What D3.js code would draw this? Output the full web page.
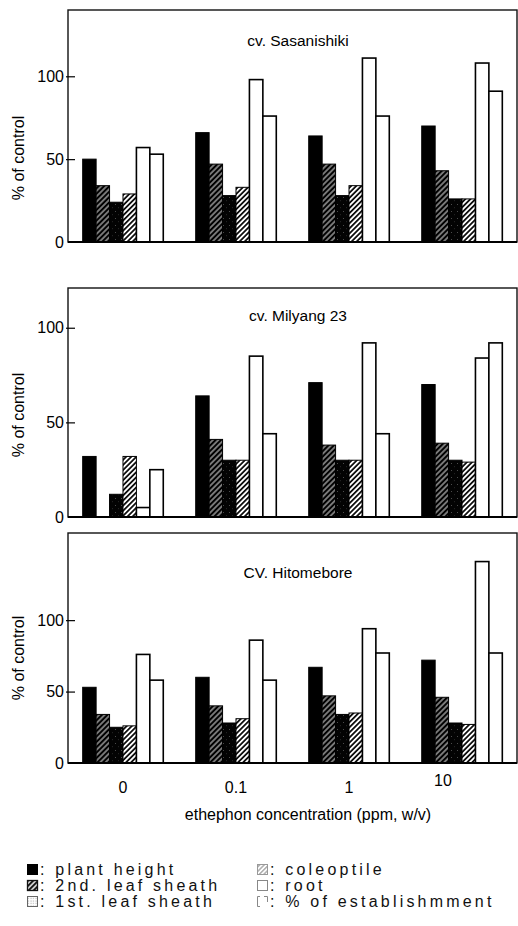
<!DOCTYPE html>
<html>
<head>
<meta charset="utf-8">
<script src="https://cdn.jsdelivr.net/npm/d3@7"></script>
<style>
  html, body { margin: 0; padding: 0; background: #fff; }
  svg { display: block; font-family: "Liberation Sans", Arial, Helvetica, sans-serif; }
</style>
</head>
<body>
<svg id="chart" width="518" height="926"></svg>
<script>
// ---------- data ----------
const groups = ["0", "0.1", "1", "10"];
const series = ["plant height", "2nd. leaf sheath", "1st. leaf sheath", "coleoptile", "root", "% of establishmment"];
const panelNames = ["cv. Sasanishiki", "cv. Milyang 23", "CV. Hitomebore"];
const yTicks = [0, 50, 100];
const xTitle = "ethephon concentration (ppm, w/v)";
const yTitle = "% of control";

// rows = series (in order above), columns = groups
const sasanishiki = [
  [50, 66, 64, 70],
  [34, 47, 47, 43],
  [24, 28, 28, 26],
  [29, 33, 34, 26],
  [57, 98, 111, 108],
  [53, 76, 76, 91]
];
const milyang23 = [
  [32, 64, 71, 70],
  [0, 41, 38, 39],
  [12, 30, 30, 30],
  [32, 30, 30, 29],
  [5, 85, 92, 84],
  [25, 44, 44, 92]
];
const hitomebore = [
  [53, 60, 67, 72],
  [34, 40, 47, 46],
  [25, 28, 34, 28],
  [26, 31, 35, 27],
  [76, 86, 94, 141],
  [58, 58, 77, 77]
];
const panelData = [sasanishiki, milyang23, hitomebore];

// ---------- layout ----------
const svg = d3.select("#chart");
const left = 68, right = 517;
const layout = [
  { top: 10,  base: 242, ymax: 140, titleY: 46,  labelY: 158 },
  { top: 288, base: 517, ymax: 121, titleY: 321, labelY: 415 },
  { top: 533, base: 763, ymax: 161, titleY: 578, labelY: 658 }
];

// ---------- patterns ----------
const defs = svg.append("defs");
function hatch(id, bg, fg, w, sp) {
  const p = defs.append("pattern").attr("id", id).attr("patternUnits", "userSpaceOnUse")
    .attr("width", sp).attr("height", sp).attr("patternTransform", "rotate(45)");
  p.append("rect").attr("width", sp).attr("height", sp).attr("fill", bg);
  p.append("line").attr("x1", sp / 2).attr("x2", sp / 2).attr("y1", -1).attr("y2", sp + 1)
    .attr("stroke", fg).attr("stroke-width", w);
}
hatch("hatchDark", "#000", "#fff", 0.9, 3.8);
hatch("hatchLight", "#fff", "#000", 1.7, 3.6);
hatch("hatchLegend", "#fff", "#999", 1.2, 3.2);
hatch("hatchLegendDark", "#fff", "#111", 2.2, 3.6);
{
  const p = defs.append("pattern").attr("id", "dots").attr("patternUnits", "userSpaceOnUse")
    .attr("width", 6).attr("height", 7);
  p.append("rect").attr("width", 6).attr("height", 7).attr("fill", "#030303");
  p.append("rect").attr("x", 1).attr("y", 1).attr("width", 0.7).attr("height", 0.7).attr("fill", "#999");
  p.append("rect").attr("x", 4).attr("y", 4.5).attr("width", 0.6).attr("height", 0.6).attr("fill", "#666");
  const q = defs.append("pattern").attr("id", "dotsLegend").attr("patternUnits", "userSpaceOnUse")
    .attr("width", 2.5).attr("height", 2.5);
  q.append("rect").attr("width", 2.5).attr("height", 2.5).attr("fill", "#fff");
  q.append("rect").attr("x", 0.5).attr("y", 0.5).attr("width", 1).attr("height", 1).attr("fill", "#999");
}
const fills = ["#000", "url(#hatchDark)", "url(#dots)", "url(#hatchLight)", "#fff", "#fff"];

// ---------- scales ----------
const x = d3.scaleBand().domain(groups).range([left, right]).paddingInner(0.287).paddingOuter(0.13);
const xs = d3.scaleBand().domain(series).range([0, x.bandwidth()]).padding(0);

panelData.forEach((data, pi) => {
  const L = layout[pi];
  const y = d3.scaleLinear().domain([0, L.ymax]).range([L.base, L.top]);
  const g = svg.append("g");

  // frame
  g.append("rect").attr("x", left).attr("y", L.top).attr("width", right - left).attr("height", L.base - L.top)
    .attr("fill", "none").attr("stroke", "#111").attr("stroke-width", 1.4);

  // bars
  const rows = [];
  data.forEach((vals, si) => vals.forEach((v, gi) => rows.push({ s: series[si], si, g: groups[gi], v })));
  g.selectAll("rect.bar").data(rows).join("rect").attr("class", "bar")
    .attr("x", d => x(d.g) + xs(d.s))
    .attr("width", xs.bandwidth())
    .attr("y", d => y(d.v))
    .attr("height", d => L.base - y(d.v))
    .attr("fill", d => fills[d.si])
    .attr("stroke", "#000")
    .attr("stroke-width", d => d.si >= 4 ? 1.6 : 1);

  // baseline redraw
  g.append("line").attr("x1", left).attr("x2", right).attr("y1", L.base).attr("y2", L.base)
    .attr("stroke", "#000").attr("stroke-width", 2);

  // y axis
  const ax = g.append("g").attr("transform", `translate(${left},0)`)
    .call(d3.axisLeft(y).tickValues(yTicks).tickSize(-7).tickPadding(4).tickFormat(d3.format("d")));
  ax.select(".domain").remove();
  ax.selectAll(".tick line").attr("stroke", "#000").attr("stroke-width", 1.2)
    .attr("x1", -2).attr("display", d => d === 0 ? "none" : null);
  ax.selectAll(".tick text").attr("font-size", 16).attr("fill", "#000")
    .attr("font-family", "'Liberation Sans', Arial, sans-serif");

  // y title
  g.append("text").attr("transform", `translate(24,${L.labelY}) rotate(-90)`)
    .attr("text-anchor", "middle").attr("font-size", 16).attr("fill", "#000").text(yTitle);

  // panel title
  g.append("text").attr("x", 298).attr("y", L.titleY).attr("text-anchor", "middle")
    .attr("font-size", 15.5).attr("fill", "#000").text(panelNames[pi]);
});

// x tick labels
svg.append("g").selectAll("text").data(groups).join("text")
  .attr("x", d => x(d) + x.bandwidth() / 2)
  .attr("dx", (d, i) => i === groups.length - 1 ? -19 : 0)
  .attr("y", (d, i) => i === groups.length - 1 ? 786 : 793)
  .attr("text-anchor", "middle").attr("font-size", 16).attr("fill", "#000").text(d => d);

svg.append("text").attr("x", 308).attr("y", 820).attr("text-anchor", "middle")
  .attr("font-size", 16).attr("fill", "#000").text(xTitle);

// ---------- legend ----------
const legend = svg.append("g");
const legendPos = [
  { x: 27, y: 875 }, { x: 27, y: 891 }, { x: 27, y: 907 },
  { x: 257, y: 875 }, { x: 257, y: 891 }, { x: 257, y: 907 }
];
series.forEach((s, i) => {
  const p = legendPos[i];
  const sx = p.x, sy = p.y - 11, sw = 11, sh = 11;
  const lg = legend.append("g");
  if (i === 0) {
    lg.append("rect").attr("x", sx).attr("y", sy).attr("width", sw).attr("height", sh).attr("fill", "#000");
  } else if (i === 1) {
    lg.append("rect").attr("x", sx + 0.5).attr("y", sy + 0.5).attr("width", sw - 1).attr("height", sh - 1)
      .attr("fill", "url(#hatchLegendDark)").attr("stroke", "#111").attr("stroke-width", 1.3);
  } else if (i === 2) {
    lg.append("rect").attr("x", sx + 0.5).attr("y", sy + 0.5).attr("width", sw - 1).attr("height", sh - 1)
      .attr("fill", "url(#dotsLegend)").attr("stroke", "#666").attr("stroke-width", 1);
  } else if (i === 3) {
    lg.append("rect").attr("x", sx + 0.5).attr("y", sy + 0.5).attr("width", sw - 1).attr("height", sh - 1)
      .attr("fill", "url(#hatchLegend)").attr("stroke", "#999").attr("stroke-width", 1);
  } else if (i === 4) {
    lg.append("rect").attr("x", sx + 0.5).attr("y", sy + 0.5).attr("width", sw - 1).attr("height", sh - 1)
      .attr("fill", "#fff").attr("stroke", "#888").attr("stroke-width", 1);
  } else {
    lg.append("path")
      .attr("d", `M${sx + 3},${sy + 0.5} H${sx + 0.5} V${sy + sh - 0.5} H${sx + 3} M${sx + sw - 4},${sy + 0.5} H${sx + sw - 0.5} V${sy + 6}`)
      .attr("fill", "none").attr("stroke", "#888").attr("stroke-width", 1);
  }
  lg.append("text").attr("x", sx + 13).attr("y", p.y).attr("font-size", 16)
    .attr("letter-spacing", 3.2).attr("fill", "#111").text(": " + s);
});
</script>
</body>
</html>
